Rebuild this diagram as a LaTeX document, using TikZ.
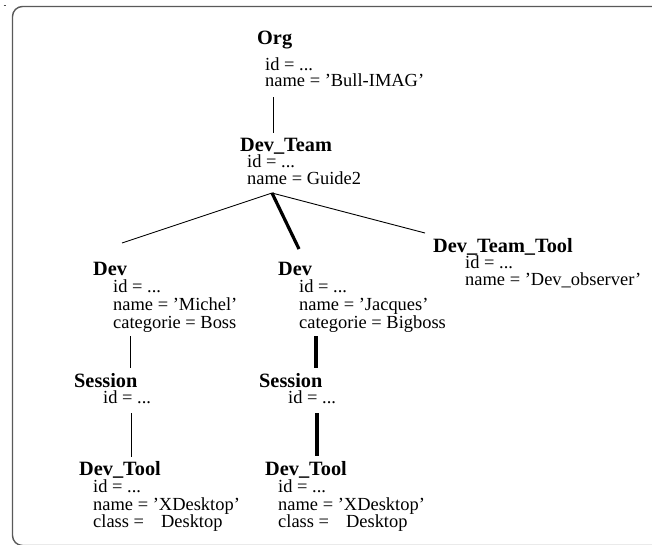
\documentclass[tikz,border=0pt]{standalone}
\usepackage{fontspec}
\setmainfont{Liberation Serif}
\begin{document}
\begin{tikzpicture}[x=1pt,y=-1pt,
  ttl/.style={anchor=base west,inner sep=0pt,font=\fontsize{20.3}{22}\selectfont\bfseries},
  attr/.style={anchor=base west,inner sep=0pt,font=\fontsize{18.45}{18}\selectfont},
  thinlink/.style={line width=0.9pt,black},
  boldlink/.style={line width=3.2pt,black},
  frame/.style={line width=1.4pt,black!65,rounded corners=10pt}]
\useasboundingbox (0,0) rectangle (652,544);
\begin{scope}
\clip (0,0) rectangle (652,544);
% outer frame, open to the right and bottom
\draw[frame] (680,6.5) -- (12.5,6.5) -- (12.5,545.5) -- (680,545.5);
\draw[line width=0.8pt,black!70] (3.5,5) -- (5.5,5);
\end{scope}

% Org
\node[ttl]  (org)     at (257,44) {Org};
\node[attr] (orgid)   at (265,70) {id = ...};
\node[attr] (orgname) at (265,86) {name = ’Bull-IMAG’};

% Dev_Team
\node[ttl]  (team)     at (240,151) {Dev\_Team};
\node[attr] (teamid)   at (247,167) {id = ...};
\node[attr] (teamname) at (247,184) {name = Guide2};

% Dev (Michel)
\node[ttl]  (devA)     at (93,275) {Dev};
\node[attr] (devAid)   at (113,292) {id = ...};
\node[attr] (devAname) at (113,310) {name = ’Michel’};
\node[attr] (devAcat)  at (113,328) {categorie = Boss};

% Dev (Jacques)
\node[ttl]  (devB)     at (278,275) {Dev};
\node[attr] (devBid)   at (299,292) {id = ...};
\node[attr] (devBname) at (299,310) {name = ’Jacques’};
\node[attr] (devBcat)  at (299,328) {categorie = Bigboss};

% Dev_Team_Tool
\node[ttl]  (ttool)     at (433,252) {Dev\_Team\_Tool};
\node[attr] (ttoolid)   at (465,268) {id = ...};
\node[attr] (ttoolname) at (465,285) {name = ’Dev\_observer’};

% Sessions
\node[ttl]  (sesA)   at (74,387) {Session};
\node[attr] (sesAid) at (103,403) {id = ...};
\node[ttl]  (sesB)   at (259,387) {Session};
\node[attr] (sesBid) at (288,403) {id = ...};

% Dev_Tool (left)
\node[ttl]  (toolA)      at (79,475) {Dev\_Tool};
\node[attr] (toolAid)    at (93,492) {id = ...};
\node[attr] (toolAname)  at (93,510) {name = ’XDesktop’};
\node[attr] (toolAclass) at (93,527) {class =\hspace{17pt}Desktop};

% Dev_Tool (right)
\node[ttl]  (toolB)      at (265,475) {Dev\_Tool};
\node[attr] (toolBid)    at (278,492) {id = ...};
\node[attr] (toolBname)  at (278,510) {name = ’XDesktop’};
\node[attr] (toolBclass) at (278,527) {class =\hspace{17pt}Desktop};

% connector ends
\coordinate (orgfoot)   at (273,97);
\coordinate (teamhead)  at (273,133);
\coordinate (teamfoot)  at (272,193);
\coordinate (devAhead)  at (122,243);
\coordinate (devBhead)  at (299,249);
\coordinate (ttoolhead) at (425,233);
\coordinate (devAfoot)  at (130,336);
\coordinate (sesAhead)  at (130,368);
\coordinate (devBfoot)  at (316,336);
\coordinate (sesBhead)  at (316,368);
\coordinate (sesAfoot)  at (131,413);
\coordinate (toolAhead) at (131,457);
\coordinate (sesBfoot)  at (317,413);
\coordinate (toolBhead) at (317,456);

% links
\draw[thinlink] (orgfoot) -- (teamhead);
\draw[thinlink] (teamfoot) -- (devAhead);
\draw[thinlink] (teamfoot) -- (ttoolhead);
\draw[boldlink] (teamfoot) -- (devBhead);
\draw[thinlink] (devAfoot) -- (sesAhead);
\draw[boldlink] (devBfoot) -- (sesBhead);
\draw[thinlink] (sesAfoot) -- (toolAhead);
\draw[boldlink] (sesBfoot) -- (toolBhead);
\end{tikzpicture}
\end{document}
